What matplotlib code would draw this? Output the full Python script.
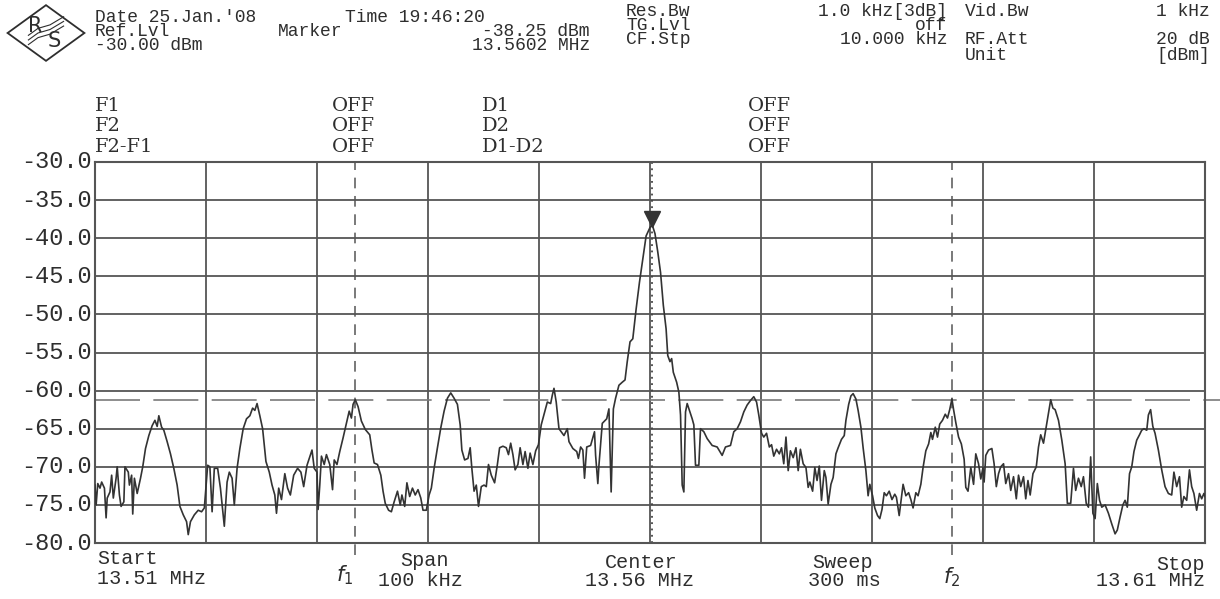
import numpy as np
import matplotlib.pyplot as plt
from matplotlib.patches import Polygon

# analyzer settings
start_mhz = 13.51
span_khz = 100
ref_level = -30.0
db_per_div = 5
marker_khz = 50.2      # 13.5602 MHz
marker_dbm = -38.25
f1_khz = 23.4
f2_khz = 77.2
limit_dbm = -61.2

# trace: offset from start frequency (kHz) and level (dBm)
freq_khz = [
    0.0, 0.1, 0.25, 0.45, 0.6, 0.85, 1.0, 1.1, 1.35, 1.5, 1.65, 1.9, 2.0, 2.2, 2.35, 2.6, 2.7, 3.0, 3.1, 3.3,
    3.4, 3.55, 3.8, 4.1, 4.3, 4.55, 4.85, 5.15, 5.4, 5.6, 5.75, 6.0, 6.2, 6.5, 6.8, 7.1, 7.4, 7.65, 7.95, 8.25,
    8.4, 8.6, 8.95, 9.3, 9.6, 9.85, 10.15, 10.35, 10.55, 10.75, 11.05, 11.3, 11.65, 11.9, 12.1, 12.35, 12.55,
    12.8, 13.05, 13.35, 13.65, 13.95, 14.2, 14.4, 14.6, 14.85, 15.1, 15.4, 15.7, 15.95, 16.2, 16.35, 16.55,
    16.8, 17.1, 17.35, 17.6, 17.9, 18.25, 18.55, 18.8, 19.1, 19.35, 19.55, 19.75, 20.0, 20.1, 20.25,
    20.4, 20.65, 20.85, 21.15, 21.4, 21.55, 21.8, 22.05, 22.35, 22.65, 22.9, 23.1, 23.25, 23.45, 23.7, 24.0,
    24.35, 24.75, 24.95, 25.15, 25.45, 25.75, 25.95, 26.15, 26.45, 26.7, 26.95, 27.25, 27.5, 27.65, 27.9,
    28.1, 28.35, 28.6, 28.85, 29.1, 29.35, 29.55, 29.85, 30.1, 30.3, 30.55, 30.85, 31.15, 31.45, 31.75,
    32.05, 32.35, 32.65, 32.9, 33.05, 33.3, 33.6, 33.8, 33.95, 34.15, 34.35, 34.55, 34.8, 35.05, 35.25,
    35.45, 35.7, 36.0, 36.25, 36.45, 36.75, 37.05, 37.25, 37.45, 37.65, 37.85, 38.1, 38.3, 38.55, 38.75,
    39.0, 39.2, 39.45, 39.7, 39.95, 40.2, 40.4,
    40.75, 41.05, 41.2, 41.35, 41.55, 41.8, 42.25, 42.55, 42.7, 43.05, 43.4, 43.55, 43.75, 43.95, 44.1,
    44.3, 44.65, 45.0, 45.1, 45.3, 45.4, 45.7, 46.1, 46.3, 46.5, 46.7, 46.9, 47.2, 47.5, 47.75, 47.95,
    48.2, 48.45, 48.75, 49.05, 49.35, 49.65, 50.0, 50.2, 50.45, 50.7, 50.95, 51.2, 51.45, 51.6, 51.8,
    51.95, 52.1, 52.4, 52.6, 52.75, 52.9, 53.05, 53.2, 53.35, 53.6, 53.8, 53.95, 54.1, 54.4, 54.55, 54.85,
    55.15, 55.6, 56.05, 56.5, 56.8, 57.25, 57.55, 57.85, 58.15, 58.45, 58.75, 59.05, 59.35, 59.6, 59.8,
    60.05, 60.25, 60.5, 60.75, 60.95, 61.15, 61.4, 61.65, 61.85, 62.05, 62.25, 62.45, 62.65, 62.9, 63.15,
    63.35, 63.55, 63.8, 64.05, 64.25, 64.4, 64.65, 64.85, 65.05, 65.25, 65.45, 65.7, 65.85, 66.05, 66.3,
    66.5, 66.75, 66.95, 67.25, 67.5, 67.65, 67.9, 68.1, 68.3, 68.55, 68.75, 69.0, 69.2, 69.45, 69.65, 69.8,
    70.05, 70.25, 70.5, 70.7, 70.9, 71.1, 71.3, 71.55, 71.8, 72.05, 72.2, 72.45, 72.65, 72.8, 73.05, 73.3,
    73.5, 73.7, 73.95, 74.15, 74.4, 74.6, 74.85, 75.1, 75.3, 75.45, 75.7, 75.9, 76.1, 76.35, 76.6, 76.8,
    77.0, 77.2, 77.35, 77.55, 77.8, 78.05, 78.3, 78.45, 78.65, 78.9, 79.15, 79.35, 79.6, 79.8, 80.0, 80.1,
    80.25, 80.5, 80.8, 81.0, 81.2, 81.4, 81.6, 81.85, 82.05, 82.3, 82.5, 82.75, 83.0, 83.2, 83.4, 83.65,
    83.85, 84.05, 84.25, 84.5, 84.8, 85.0, 85.2, 85.45, 85.7, 85.9, 86.1, 86.3, 86.5, 86.8, 87.1, 87.4,
    87.6, 87.9, 88.15, 88.35, 88.6, 88.85, 89.05, 89.3, 89.5, 89.7, 89.9, 90.1, 90.3, 90.5, 90.7, 91.0,
    91.3, 91.6, 91.9, 92.1, 92.35, 92.6, 92.8, 93.0, 93.2, 93.4, 93.6, 93.85, 94.1, 94.3, 94.5, 94.75,
    94.9, 95.1, 95.3, 95.5, 95.8, 96.1, 96.4, 96.7, 97.0, 97.2, 97.45, 97.7, 97.9, 98.1, 98.35, 98.6,
    98.8, 99.0, 99.25, 99.5, 99.7, 99.9, 100.0,
]
level_dbm = [
    -72.4, -75.0, -72.2, -72.8, -72.0, -72.8, -76.7, -74.1, -73.3, -71.1, -74.1, -71.5, -70.0, -73.7, -75.2,
    -74.6, -70.0, -70.7, -72.4, -71.1, -76.2, -71.5, -73.5, -71.5, -70.0, -67.6, -65.9, -64.6, -63.9, -64.7,
    -63.3, -64.8, -65.2, -66.7, -68.3, -70.2, -72.4, -75.2, -76.3, -77.2, -78.9, -77.2, -76.3, -75.7, -75.9,
    -75.4, -69.8, -70.0, -75.9, -70.2, -70.2, -72.8, -77.8, -72.0, -70.7, -71.5, -75.0, -70.2, -67.6, -65.0,
    -63.7, -63.3, -62.3, -62.6, -61.7, -63.3, -65.0, -69.3, -70.7, -72.4, -73.7, -76.1, -72.8, -74.3, -70.9,
    -72.8, -73.7, -71.1, -70.2, -70.7, -72.6, -69.8, -68.7, -67.8, -70.2, -70.7, -75.6, -72.4,
    -68.6, -69.7, -68.4, -69.7, -73.0, -69.1, -69.7, -68.0, -66.2, -64.3, -62.7, -63.6, -61.8, -61.2, -62.1,
    -64.0, -65.1, -65.8, -67.8, -69.5, -69.7, -71.1, -73.2, -74.8, -75.7, -75.9, -74.6, -73.2, -75.0, -73.7,
    -75.2, -72.1, -73.9, -72.8, -73.7, -73.0, -74.1, -75.7, -75.7, -73.7, -72.8, -70.2, -67.5, -64.9, -62.7,
    -61.0, -60.3, -61.0, -61.8, -64.5, -67.8, -69.1, -68.9, -67.5, -70.2, -73.2, -72.4, -75.2, -72.6, -72.4,
    -72.6, -69.7, -71.1, -72.1, -69.7, -67.5, -67.3, -67.5, -68.4, -66.9, -68.4, -70.4, -69.7, -67.5, -69.7,
    -68.0, -70.2, -68.2, -69.7, -67.9, -67.1, -64.5, -63.4,
    -61.5, -61.7, -60.6, -59.7, -61.5, -65.0, -65.9, -65.0, -66.7, -67.6, -68.0, -68.9, -67.4, -67.8, -71.5,
    -67.4, -67.2, -65.4, -68.5, -72.2, -69.8, -64.3, -63.7, -62.4, -73.3, -62.4, -61.0, -59.3, -58.9, -58.6,
    -56.2, -53.6, -53.2, -49.3, -45.8, -42.7, -39.7, -38.6, -38.25, -39.4, -41.8, -44.5, -48.8, -51.9, -55.4,
    -56.2, -55.8, -57.6, -58.9, -60.2, -63.2, -72.4, -73.3, -62.8, -61.7, -62.8, -63.7, -64.5, -69.8, -69.8,
    -65.0, -65.4, -66.3, -67.2, -67.4, -68.5, -67.4, -67.2, -65.4, -65.0, -64.1, -62.8, -61.9, -61.3, -60.8,
    -61.5, -63.2,
    -65.6, -66.1, -65.6, -67.4, -67.1, -68.6, -67.7, -68.3, -67.5, -69.6, -66.1, -70.5, -67.9, -68.8, -67.5,
    -70.5, -67.7, -69.6, -70.1, -72.7, -72.0, -73.2, -70.1, -71.8, -69.9, -74.4, -70.5, -71.4, -74.9, -72.3,
    -71.4, -68.3, -67.5, -66.4, -65.9, -63.9, -61.8, -60.7, -60.4, -61.1, -62.6, -64.8, -67.5, -70.5, -73.8,
    -72.3, -73.8, -75.4, -76.4, -76.8, -75.6, -73.4, -73.8, -73.2, -74.3, -73.6, -74.0, -76.4, -74.0, -72.3,
    -73.8, -73.4, -74.3, -75.4, -73.4, -73.8, -72.3, -70.1, -67.9, -67.0, -65.5, -66.4, -64.8, -66.1, -64.4,
    -63.9, -63.1, -63.6, -62.5, -61.1, -62.5, -64.2, -66.1, -67.0, -69.0, -72.7, -73.2, -70.1, -72.3, -68.3,
    -69.6, -71.6, -70.1, -72.0,
    -68.5, -67.8, -67.6, -69.6, -72.6, -70.9, -70.0, -69.6, -72.2, -70.9, -73.1, -71.3, -74.2, -71.1, -72.6,
    -71.3, -74.2, -71.8, -73.7, -70.9, -70.0, -67.4, -65.8, -66.9, -64.7, -63.0, -61.2, -62.3, -62.5, -63.9,
    -66.5, -69.6, -74.8, -74.8, -70.2, -73.1, -71.5, -72.6, -71.3, -74.8, -75.3, -68.7, -76.1, -76.8, -72.2,
    -74.4, -75.3, -75.0, -76.1, -77.5, -78.8, -78.3, -76.6, -75.0, -74.4, -75.3, -70.9, -70.0, -68.0, -66.5,
    -65.8, -65.2, -65.0, -65.2, -63.2, -62.5, -64.7, -65.6, -67.8, -70.4, -72.6, -73.5, -73.7, -70.7, -72.6,
    -71.3, -75.3, -73.9, -74.4, -70.4, -72.6, -73.5, -75.7, -73.5, -74.2, -73.5, -73.9,
]

W, H = 1220, 599
INK = '#2e2e2e'
MONO = ['Liberation Mono', 'DejaVu Sans Mono']
HDR = 13       # header font size
FTR = 14.5     # footer font size

fig = plt.figure(figsize=(W / 100, H / 100), dpi=100)
fig.patch.set_facecolor('white')


def put(x, y, s, ha='left', size=16, family=MONO, **kw):
    fig.text(x / W, 1 - y / H, s, ha=ha, va='center', fontsize=size,
             color=INK, family=family, **kw)


# main graticule
ax = fig.add_axes([95 / W, 1 - 543 / H, 1110 / W, 381 / H])
ax.set_xlim(0, span_khz)
ax.set_ylim(ref_level - 10 * db_per_div, ref_level)
ax.set_xticks(np.arange(0, span_khz + 1, span_khz / 10))
ax.set_yticks(np.arange(ref_level - 10 * db_per_div, ref_level + 1, db_per_div))
ax.grid(True, color='#555555', lw=1.3)
ax.tick_params(length=0, labelbottom=False, labelleft=False)
for sp in ax.spines.values():
    sp.set_color('#555555')
    sp.set_linewidth(1.5)

ax.plot(freq_khz, level_dbm, color='#333333', lw=1.2, zorder=3)

# display line, f1/f2 lines, marker
ax.plot([0, 101.5], [limit_dbm, limit_dbm], ls=(0, (27, 8)), color='#7a7a7a',
        lw=1.2, clip_on=False, zorder=2)
for fx in (f1_khz, f2_khz):
    ax.plot([fx, fx], [-81.6, ref_level], ls=(0, (7, 5)), color='#555555',
            lw=1.1, clip_on=False, zorder=2)
ax.axvline(marker_khz, ls=(0, (1, 2.5)), color='#444444', lw=1.3, zorder=2)
ax.plot(marker_khz, marker_dbm + 0.75, marker='v', ms=11, color='#333333',
        zorder=4, clip_on=False)

# y labels
for lvl in np.arange(ref_level, ref_level - 10 * db_per_div - 1, -db_per_div):
    y = 162 + (ref_level - lvl) / db_per_div * 38.1
    put(92, y, f'{lvl:.1f}', ha='right', size=17)

# header
put(95, 17, "Date 25.Jan.'08", size=HDR)
put(345, 17, 'Time 19:46:20', size=HDR)
put(95, 31, 'Ref.Lvl', size=HDR)
put(278, 31, 'Marker', size=HDR)
put(590, 31, '-38.25 dBm', ha='right', size=HDR)
put(95, 45, '-30.00 dBm', size=HDR)
put(590, 45, '13.5602 MHz', ha='right', size=HDR)

put(626, 12, 'Res.Bw', size=HDR)
put(947, 12, '1.0 kHz[3dB]', ha='right', size=HDR)
put(965, 12, 'Vid.Bw', size=HDR)
put(1210, 12, '1 kHz', ha='right', size=HDR)
put(626, 26, 'TG.Lvl', size=HDR)
put(947, 26, 'off', ha='right', size=HDR)
put(626, 40, 'CF.Stp', size=HDR)
put(947, 40, '10.000 kHz', ha='right', size=HDR)
put(965, 40, 'RF.Att', size=HDR)
put(1210, 40, '20 dB', ha='right', size=HDR)
put(965, 55, 'Unit', size=HDR)
put(1210, 55, '[dBm]', ha='right', size=HDR)

SERIF = ['DejaVu Serif']
for y, f_lab, d_lab in [(106, 'F1', 'D1'), (126, 'F2', 'D2'), (147, 'F2-F1', 'D1-D2')]:
    put(95, y, f_lab, size=14, family=SERIF)
    put(332, y, 'OFF', size=14, family=SERIF)
    put(482, y, d_lab, size=14, family=SERIF)
    put(748, y, 'OFF', size=14, family=SERIF)

# footer
put(97, 558, 'Start', size=FTR)
put(97, 578, f'{start_mhz:.2f} MHz', size=FTR)
put(400, 560, 'Span', size=FTR)
put(378, 580, f'{span_khz} kHz', size=FTR)
put(605, 562, 'Center', size=FTR)
put(585, 580, f'{start_mhz + span_khz / 2000:.2f} MHz', size=FTR)
put(812, 563, 'Sweep', size=FTR)
put(808, 581, '300 ms', size=FTR)
put(1205, 564, 'Stop', ha='right', size=FTR)
put(1205, 581, f'{start_mhz + span_khz / 1000:.2f} MHz', ha='right', size=FTR)
put(336, 575, r'$f_1$', size=15, family=['DejaVu Sans'])
put(943, 577, r'$f_2$', size=15, family=['DejaVu Sans'])

# R&S logo
lg = fig.add_axes([6 / W, 1 - 62 / H, 80 / W, 58 / H])
lg.set_xlim(0, 1)
lg.set_ylim(0, 1)
lg.axis('off')
lg.add_patch(Polygon([[0.02, 0.5], [0.5, 0.98], [0.98, 0.5], [0.5, 0.02]],
                     closed=True, fill=False, ec=INK, lw=1.3))
lg.text(0.36, 0.62, 'R', ha='center', va='center', fontsize=15, color=INK, family='DejaVu Sans')
lg.text(0.6, 0.36, 'S', ha='center', va='center', fontsize=15, color=INK, family='DejaVu Sans')
for dy in (0.0, 0.08, 0.16):
    lg.plot([0.28, 0.4, 0.55, 0.72], [0.3 + dy, 0.42 + dy, 0.48 + dy, 0.62 + dy],
            color=INK, lw=0.8)

fig.savefig('out.png', dpi=100, facecolor='white')
